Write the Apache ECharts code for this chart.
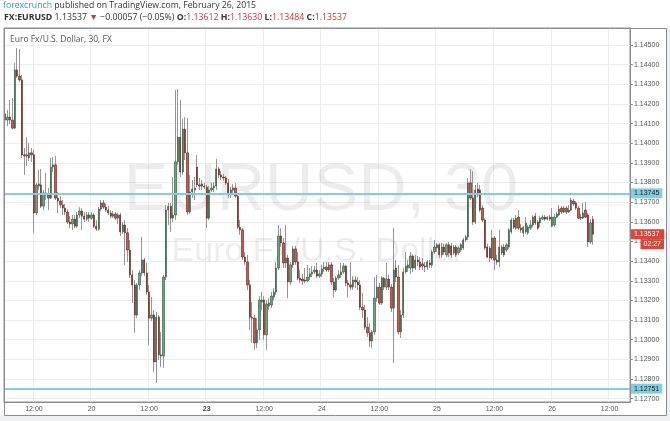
<!DOCTYPE html>
<html><head><meta charset="utf-8">
<script src="https://cdn.jsdelivr.net/npm/echarts@6/dist/echarts.min.js"></script>
<style>html,body{margin:0;padding:0;background:#fff;}#c{width:670px;height:421px;}</style>
</head><body><div id="c"></div>
<script>
// EUR/USD 30-minute candles, Feb 19 06:00 -> Feb 26 ~08:30 (weekend removed)
const opens = [
1.14149,1.14118,1.14133,1.14118,1.14077,1.14373,1.14342,1.14322,1.13941,1.13935,
1.13925,1.13951,1.13941,1.13645,1.13782,1.13788,1.13680,1.13747,1.13737,1.13721,
1.13879,1.13890,1.13721,1.13706,1.13686,1.13670,1.13650,1.13599,1.13589,1.13614,
1.13578,1.13635,1.13655,1.13629,1.13614,1.13635,1.13619,1.13635,1.13578,1.13563,
1.13665,1.13696,1.13675,1.13660,1.13645,1.13629,1.13640,1.13619,1.13635,1.13549,
1.13584,1.13544,1.13457,1.13330,1.13279,1.13126,1.13279,1.13340,1.13406,1.13340,
1.13243,1.13110,1.13126,1.12887,1.13115,1.12923,1.12917,1.13319,1.13660,1.13680,
1.13619,1.13635,1.13905,1.14031,1.13854,1.14072,1.13951,1.13650,1.13752,1.13762,
1.13879,1.13788,1.13793,1.13782,1.13777,1.13619,1.13762,1.13772,1.13782,1.13869,
1.13839,1.13828,1.13823,1.13798,1.13737,1.13762,1.13772,1.13731,1.13573,1.13559,
1.13421,1.13396,1.13279,1.13115,1.13110,1.12984,1.13050,1.13192,1.13202,1.13025,
1.13171,1.13177,1.13217,1.13243,1.13365,1.13528,1.13493,1.13391,1.13416,1.13294,
1.13381,1.13462,1.13396,1.13314,1.13309,1.13304,1.13299,1.13319,1.13335,1.13345,
1.13355,1.13324,1.13335,1.13360,1.13370,1.13355,1.13381,1.13294,1.13253,1.13314,
1.13330,1.13345,1.13375,1.13289,1.13279,1.13268,1.13304,1.13294,1.13279,1.13166,
1.13151,1.13064,1.13035,1.12994,1.13040,1.13212,1.13268,1.13187,1.13314,1.13268,
1.13309,1.13268,1.13161,1.13365,1.13319,1.13040,1.13126,1.13345,1.13365,1.13365,
1.13426,1.13365,1.13406,1.13396,1.13386,1.13375,1.13370,1.13391,1.13381,1.13447,
1.13467,1.13483,1.13432,1.13472,1.13432,1.13483,1.13477,1.13442,1.13472,1.13442,
1.13457,1.13467,1.13508,1.13523,1.13798,1.13721,1.13599,1.13767,1.13762,1.13670,
1.13609,1.13472,1.13467,1.13416,1.13518,1.13406,1.13396,1.13442,1.13472,1.13457,
1.13472,1.13549,1.13609,1.13568,1.13624,1.13568,1.13544,1.13549,1.13544,1.13568,
1.13584,1.13629,1.13599,1.13594,1.13614,1.13624,1.13614,1.13624,1.13578,1.13584,
1.13624,1.13635,1.13670,1.13650,1.13670,1.13650,1.13660,1.13706,1.13696,1.13670,
1.13624,1.13619,1.13660,1.13635,1.13498,1.13612];
const closes = [
1.14118,1.14133,1.14118,1.14077,1.14373,1.14342,1.14322,1.13941,1.13935,1.13941,
1.13951,1.13941,1.13645,1.13788,1.13793,1.13680,1.13747,1.13737,1.13721,1.13879,
1.13890,1.13721,1.13706,1.13686,1.13670,1.13650,1.13599,1.13589,1.13614,1.13578,
1.13635,1.13655,1.13629,1.13614,1.13635,1.13619,1.13635,1.13578,1.13563,1.13665,
1.13696,1.13675,1.13660,1.13645,1.13629,1.13640,1.13619,1.13635,1.13549,1.13584,
1.13544,1.13457,1.13330,1.13279,1.13126,1.13279,1.13340,1.13406,1.13340,1.13243,
1.13110,1.13126,1.12887,1.13115,1.12923,1.12917,1.13319,1.13660,1.13680,1.13619,
1.13635,1.13905,1.14031,1.13854,1.14072,1.13951,1.13650,1.13752,1.13767,1.13772,
1.13788,1.13782,1.13782,1.13777,1.13619,1.13762,1.13772,1.13782,1.13869,1.13839,
1.13828,1.13823,1.13798,1.13737,1.13762,1.13772,1.13731,1.13573,1.13559,1.13421,
1.13396,1.13279,1.13115,1.13110,1.12984,1.13050,1.13202,1.13202,1.13025,1.13182,
1.13187,1.13222,1.13243,1.13365,1.13528,1.13493,1.13391,1.13416,1.13294,1.13381,
1.13462,1.13396,1.13314,1.13304,1.13299,1.13299,1.13319,1.13335,1.13345,1.13355,
1.13324,1.13335,1.13360,1.13370,1.13355,1.13381,1.13294,1.13253,1.13314,1.13330,
1.13345,1.13375,1.13289,1.13279,1.13268,1.13304,1.13294,1.13279,1.13166,1.13151,
1.13064,1.13035,1.12994,1.13040,1.13212,1.13268,1.13187,1.13314,1.13268,1.13309,
1.13268,1.13161,1.13355,1.13319,1.13040,1.13126,1.13345,1.13375,1.13381,1.13426,
1.13365,1.13406,1.13396,1.13370,1.13375,1.13370,1.13396,1.13381,1.13447,1.13472,
1.13483,1.13432,1.13472,1.13447,1.13483,1.13442,1.13432,1.13472,1.13432,1.13467,
1.13483,1.13508,1.13523,1.13798,1.13721,1.13599,1.13762,1.13737,1.13660,1.13609,
1.13467,1.13421,1.13416,1.13518,1.13406,1.13396,1.13472,1.13472,1.13432,1.13483,
1.13559,1.13609,1.13573,1.13619,1.13568,1.13559,1.13573,1.13594,1.13573,1.13584,
1.13624,1.13594,1.13568,1.13619,1.13624,1.13614,1.13624,1.13614,1.13624,1.13624,
1.13640,1.13665,1.13650,1.13670,1.13650,1.13660,1.13711,1.13691,1.13670,1.13619,
1.13619,1.13645,1.13624,1.13498,1.13594,1.13537];
const lows = [
1.14077,1.14087,1.14098,1.14072,1.14072,1.14332,1.14312,1.13925,1.13839,1.13884,
1.13910,1.13905,1.13544,1.13635,1.13762,1.13670,1.13660,1.13711,1.13660,1.13716,
1.13854,1.13711,1.13645,1.13670,1.13635,1.13635,1.13589,1.13568,1.13559,1.13568,
1.13568,1.13619,1.13559,1.13599,1.13604,1.13599,1.13609,1.13568,1.13554,1.13554,
1.13655,1.13665,1.13650,1.13635,1.13619,1.13619,1.13609,1.13589,1.13528,1.13539,
1.13381,1.13396,1.13314,1.13187,1.13035,1.13110,1.13253,1.13324,1.13324,1.13228,
1.12974,1.13095,1.12836,1.12780,1.12897,1.12861,1.12856,1.13304,1.13584,1.13549,
1.13599,1.13609,1.13890,1.13828,1.13839,1.13915,1.13635,1.13640,1.13721,1.13711,
1.13777,1.13762,1.13762,1.13767,1.13568,1.13609,1.13752,1.13752,1.13762,1.13823,
1.13813,1.13808,1.13788,1.13721,1.13721,1.13747,1.13721,1.13563,1.13534,1.13406,
1.13381,1.13253,1.13050,1.12984,1.12948,1.12958,1.12999,1.13151,1.12999,1.12948,
1.13151,1.13161,1.13202,1.13228,1.13355,1.13472,1.13365,1.13365,1.13212,1.13279,
1.13365,1.13381,1.13304,1.13289,1.13279,1.13289,1.13294,1.13304,1.13319,1.13335,
1.13314,1.13314,1.13319,1.13345,1.13345,1.13345,1.13279,1.13217,1.13243,1.13304,
1.13314,1.13335,1.13273,1.13217,1.13253,1.13253,1.13263,1.13253,1.13151,1.13110,
1.13050,1.13014,1.12963,1.12958,1.13025,1.13192,1.13177,1.13177,1.13253,1.13253,
1.13253,1.13141,1.12882,1.13294,1.13025,1.13009,1.13110,1.13335,1.13345,1.13335,
1.13345,1.13355,1.13375,1.13355,1.13355,1.13345,1.13355,1.13365,1.13365,1.13437,
1.13447,1.13416,1.13416,1.13432,1.13421,1.13421,1.13416,1.13432,1.13421,1.13432,
1.13447,1.13457,1.13498,1.13508,1.13711,1.13584,1.13589,1.13726,1.13650,1.13599,
1.13457,1.13416,1.13396,1.13406,1.13355,1.13381,1.13370,1.13432,1.13421,1.13447,
1.13462,1.13539,1.13563,1.13559,1.13559,1.13544,1.13523,1.13539,1.13534,1.13559,
1.13573,1.13584,1.13559,1.13573,1.13609,1.13604,1.13609,1.13604,1.13573,1.13573,
1.13619,1.13629,1.13640,1.13645,1.13640,1.13645,1.13655,1.13680,1.13660,1.13614,
1.13609,1.13614,1.13619,1.13472,1.13488,1.13484];
const highs = [
1.14184,1.14169,1.14220,1.14230,1.14409,1.14484,1.14479,1.14348,1.13976,1.14031,
1.14002,1.13976,1.13966,1.13798,1.13864,1.13869,1.13762,1.13849,1.13772,1.13925,
1.13930,1.13935,1.13752,1.13731,1.13711,1.13691,1.13665,1.13629,1.13635,1.13635,
1.13650,1.13675,1.13670,1.13650,1.13650,1.13650,1.13650,1.13645,1.13609,1.13675,
1.13711,1.13711,1.13691,1.13680,1.13660,1.13655,1.13650,1.13645,1.13645,1.13599,
1.13609,1.13568,1.13508,1.13355,1.13304,1.13289,1.13355,1.13523,1.13416,1.13391,
1.13279,1.13217,1.13151,1.13141,1.13126,1.13040,1.13330,1.13686,1.13696,1.13696,
1.13828,1.14271,1.14276,1.14220,1.14123,1.14133,1.14128,1.13839,1.13813,1.13828,
1.13941,1.13823,1.13813,1.13798,1.13788,1.13782,1.13798,1.13803,1.13920,1.13879,
1.13859,1.13844,1.13833,1.13818,1.13777,1.13793,1.13798,1.13747,1.13609,1.13568,
1.13447,1.13432,1.13304,1.13192,1.13126,1.13110,1.13222,1.13243,1.13222,1.13202,
1.13212,1.13243,1.13263,1.13396,1.13584,1.13568,1.13518,1.13584,1.13432,1.13396,
1.13477,1.13477,1.13447,1.13355,1.13335,1.13365,1.13381,1.13365,1.13375,1.13375,
1.13391,1.13355,1.13381,1.13396,1.13396,1.13396,1.13396,1.13314,1.13324,1.13355,
1.13391,1.13391,1.13381,1.13304,1.13396,1.13324,1.13324,1.13319,1.13304,1.13238,
1.13177,1.13115,1.13085,1.13050,1.13319,1.13330,1.13289,1.13324,1.13319,1.13391,
1.13330,1.13284,1.13568,1.13406,1.13381,1.13151,1.13365,1.13447,1.13406,1.13447,
1.13437,1.13432,1.13426,1.13421,1.13416,1.13396,1.13406,1.13406,1.13457,1.13508,
1.13493,1.13493,1.13493,1.13488,1.13493,1.13498,1.13493,1.13483,1.13483,1.13477,
1.13493,1.13518,1.13534,1.13823,1.13869,1.13859,1.13788,1.13798,1.13788,1.13686,
1.13619,1.13488,1.13477,1.13559,1.13528,1.13432,1.13559,1.13483,1.13488,1.13493,
1.13568,1.13619,1.13619,1.13635,1.13660,1.13589,1.13578,1.13624,1.13584,1.13609,
1.13635,1.13645,1.13609,1.13629,1.13635,1.13635,1.13629,1.13635,1.13670,1.13640,
1.13650,1.13686,1.13680,1.13680,1.13680,1.13686,1.13721,1.13716,1.13706,1.13680,
1.13640,1.13696,1.13701,1.13645,1.13614,1.13630];

const slotCount = 261;                      // 30-min slots shown on the axis
const xTickIndex = [12,36,60,84,108,132,156,180,204,228,252];
const xTickLabels = ['12:00','20','12:00','23','12:00','24','12:00','25','12:00','26','12:00'];
const boldTicks = ['23'];
const yTicks = [1.127,1.128,1.129,1.130,1.131,1.132,1.133,1.134,1.135,1.136,1.137,1.138,1.139,1.140,1.141,1.142,1.143,1.144,1.145];
const levelLines = [1.13745, 1.12751];
const countdown = '02:27';

const last = opens.length - 1;
const lastClose = closes[last];
const change = closes[last] - closes[last - 1];

const slots = Array.from({length: slotCount}, (_, i) => i);
const wickData = opens.map((o, i) => [o, closes[i], lows[i], highs[i]]);
const bodyData = opens.map((o, i) => [o, closes[i], Math.min(o, closes[i]), Math.max(o, closes[i])]);
const isTick = (idx) => xTickIndex.indexOf(idx) >= 0;

const chart = echarts.init(document.getElementById('c'), null, {renderer: 'canvas'});
const F = 'Liberation Sans';
const H = 'Open Sans';

const fmt = v => v.toFixed(5);
const signed = v => (v < 0 ? '\u2212' : '+') + Math.abs(v).toFixed(5);
const pct = v => (v < 0 ? '\u2212' : '+') + Math.abs(v).toFixed(2) + '%';
const levelLabel = {show: true, position: 'end', distance: 1, formatter: p => fmt(p.value), backgroundColor: '#80cfe0', color: '#1b1b1b', fontSize: 7, fontFamily: F, padding: [2, 3, 1, 3]};

const option = {
  animation: false,
  backgroundColor: '#ffffff',
  grid: {left: 4, right: 40, top: 28, bottom: 19, show: true, borderColor: '#8c8c8c', borderWidth: 1},
  xAxis: {
    type: 'category', data: slots, boundaryGap: true,
    axisLine: {show: true, lineStyle: {color: '#8c8c8c'}},
    axisTick: {show: false},
    axisLabel: {
      interval: (idx) => isTick(idx), fontSize: 7, color: '#555', fontFamily: F, margin: 4,
      formatter: (val) => {
        const k = xTickIndex.indexOf(Number(val));
        if (k < 0) return '';
        const t = xTickLabels[k];
        return boldTicks.indexOf(t) >= 0 ? '{b|' + t + '}' : t;
      },
      rich: {b: {fontWeight: 'bold', fontSize: 7, color: '#444', fontFamily: F}}
    },
    splitLine: {show: true, interval: (idx) => isTick(idx), lineStyle: {color: '#ececec', width: 1}}
  },
  yAxis: {
    type: 'value', position: 'right', scale: true,
    min: 1.126832, max: 1.145865,
    axisLine: {show: true, lineStyle: {color: '#8c8c8c'}},
    axisTick: {show: true, customValues: yTicks, length: 3, lineStyle: {color: '#8c8c8c'}},
    axisLabel: {customValues: yTicks, formatter: fmt, fontSize: 7, color: '#555', fontFamily: F, margin: 4},
    splitLine: {show: true, lineStyle: {color: '#ececec', width: 1}}
  },
  series: [
    {
      name: 'wick', type: 'candlestick', data: wickData, barWidth: 1, silent: true, z: 2,
      itemStyle: {color: '#959597', color0: '#959597', borderColor: '#959597', borderColor0: '#959597', borderWidth: 1}
    },
    {
      name: 'EURUSD', type: 'candlestick', data: bodyData, barWidth: 1.8, silent: true, z: 3,
      itemStyle: {color: '#6ba583', color0: '#d75442', borderColor: '#225437', borderColor0: '#5b1a13', borderWidth: 0.6},
      markLine: {
        symbol: ['none', 'none'], silent: true, animation: false, precision: 5,
        data: [
          {yAxis: levelLines[0], lineStyle: {color: '#80cfe0', width: 2, type: 'solid'}, label: levelLabel},
          {yAxis: levelLines[1], lineStyle: {color: '#80cfe0', width: 2, type: 'solid'}, label: levelLabel}
        ]
      }
    }
  ],
  graphic: [
    {type: 'rect', silent: true, z: 0, shape: {x: 0, y: 415.5, width: 670, height: 6}, style: {fill: '#eef1f4'}},
    {type: 'rect', silent: true, z: 0, shape: {x: 666.5, y: 28, width: 4, height: 394}, style: {fill: '#eef1f4'}},
    {type: 'rect', silent: true, z: 10, shape: {x: 4.5, y: 28.5, width: 662, height: 387}, style: {fill: 'none', stroke: '#8c8c8c', lineWidth: 1}},
    {type: 'text', silent: true, z: 1, x: 321, y: 192,
     style: {text: 'EURUSD, 30', fontSize: 67, fontFamily: F, fill: 'rgba(0,0,0,0.075)', align: 'center', verticalAlign: 'middle', textAlign: 'center', textVerticalAlign: 'middle'}},
    {type: 'text', silent: true, z: 1, x: 318, y: 252,
     style: {text: 'Euro Fx/U.S. Dollar', fontSize: 34, fontFamily: F, fill: 'rgba(0,0,0,0.075)', align: 'center', verticalAlign: 'middle', textAlign: 'center', textVerticalAlign: 'middle'}},
    {type: 'text', silent: true, z: 10, left: 10, top: 35,
     style: {text: 'Euro Fx/U.S. Dollar, 30, FX', fontSize: 8.5, fontFamily: H, fill: '#555'}},
    {type: 'text', silent: true, z: 10, left: 3, top: 1,
     style: {text: '{a|forexcrunch} published on TradingView.com, February 26, 2015', fontSize: 8.7, fontFamily: H, fill: '#333',
       rich: {a: {fill: '#2a9ad6', fontSize: 8.7, fontFamily: H}}}},
    {type: 'text', silent: true, z: 10, left: 4, top: 13,
     style: {text: '{b|FX:EURUSD} ' + fmt(lastClose) + ' {r|\u25BC} ' + signed(change) + ' (' + pct(change / closes[last - 1] * 100) + ') ' +
       '{b|O:}{r|' + fmt(opens[last]) + '} {b|H:}{r|' + fmt(highs[last]) + '} {b|L:}{r|' + fmt(lows[last]) + '} {b|C:}{r|' + fmt(closes[last]) + '}',
       fontSize: 8.75, fontFamily: H, fill: '#333',
       rich: {b: {fontWeight: 'bold', fill: '#333', fontSize: 8.75, fontFamily: H}, r: {fill: '#cc3333', fontSize: 8.75, fontFamily: H}}}}
  ]
};
chart.setOption(option);

// last-price box and countdown box on the price axis, placed through the axis scale
const yLast = chart.convertToPixel({yAxisIndex: 0}, lastClose);
chart.setOption({graphic: option.graphic.concat([
  {type: 'text', silent: true, z: 20, x: 631, y: yLast,
   style: {text: fmt(lastClose), fontSize: 7, fontFamily: F, fill: '#ffffff', backgroundColor: '#d9473a', padding: [2, 5, 1, 3],
     align: 'left', verticalAlign: 'middle', textAlign: 'left', textVerticalAlign: 'middle'}},
  {type: 'text', silent: true, z: 20, x: 664, y: yLast + 10,
   style: {text: countdown, fontSize: 7, fontFamily: F, fill: '#ffffff', backgroundColor: '#d9473a', padding: [2, 3, 1, 3],
     align: 'right', verticalAlign: 'middle', textAlign: 'right', textVerticalAlign: 'middle'}}
])});
</script></body></html>
